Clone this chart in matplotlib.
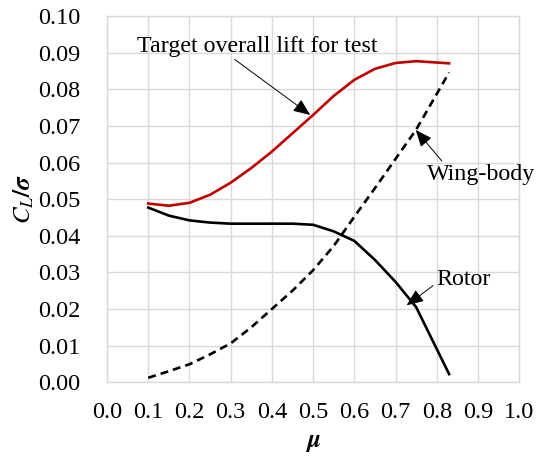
import matplotlib
matplotlib.use("Agg")
import matplotlib.pyplot as plt

# Advance ratio values and lift coefficient / solidity for each component
mu = [0.10, 0.15, 0.20, 0.25, 0.30, 0.35, 0.40, 0.45, 0.50, 0.55, 0.60, 0.65, 0.70, 0.75, 0.83]
target_total = [0.0488, 0.0482, 0.0490, 0.0512, 0.0545, 0.0585, 0.0630, 0.0680, 0.0730, 0.0782,
                0.0826, 0.0856, 0.0872, 0.0877, 0.0871]
rotor = [0.0477, 0.0455, 0.0442, 0.0436, 0.0433, 0.0433, 0.0433, 0.0433, 0.0430, 0.0412,
         0.0386, 0.0334, 0.0274, 0.0205, 0.0022]
wing_body = [0.0012, 0.0030, 0.0049, 0.0076, 0.0106, 0.0150, 0.0200, 0.0250, 0.0306, 0.0372,
             0.0452, 0.0530, 0.0610, 0.0690, 0.0846]

x_ticks = [0.0, 0.1, 0.2, 0.3, 0.4, 0.5, 0.6, 0.7, 0.8, 0.9, 1.0]
y_ticks = [0.00, 0.01, 0.02, 0.03, 0.04, 0.05, 0.06, 0.07, 0.08, 0.09, 0.10]

plt.rcParams['font.family'] = ['Liberation Serif', 'DejaVu Serif']
plt.rcParams['mathtext.fontset'] = 'stix'

fig = plt.figure(figsize=(5.38, 4.61), dpi=100)
ax = fig.add_axes([0.199, 0.171, 0.766, 0.794])

grid_c = '#d9d9d9'
ax.plot(mu, target_total, color='#c00000', lw=1.9, zorder=3)
ax.plot(mu, rotor, color='black', lw=1.9, zorder=3)
ax.plot(mu, wing_body, color='black', lw=1.9, ls=(0, (3.0, 1.9)), zorder=3)

ax.set_xlim(0, 1.0)
ax.set_ylim(0, 0.10)
ax.set_xticks(x_ticks)
ax.set_yticks(y_ticks)
ax.set_xticklabels([f"{v:.1f}" for v in x_ticks])
ax.set_yticklabels([f"{v:.2f}" for v in y_ticks])
ax.tick_params(length=0, labelsize=17.5)
ax.tick_params(axis='y', pad=19)
ax.tick_params(axis='x', pad=14)
ax.grid(True, color=grid_c, lw=1.0)
ax.set_axisbelow(True)
for s in ax.spines.values():
    s.set_color(grid_c)
    s.set_linewidth(1.0)

ax.set_xlabel(r'$\boldsymbol{\mu}$', fontsize=18, labelpad=7)
ax.set_ylabel(r'$\boldsymbol{C_L/\sigma}$', fontsize=18, labelpad=2)

arrow = dict(arrowstyle='-|>,head_length=0.6,head_width=0.25', color='black', lw=0.7,
             shrinkA=0, shrinkB=0)
ax.annotate('Target overall lift for test', xy=(0.493, 0.0730), xytext=(0.073, 0.0918),
            fontsize=17.3, ha='left', va='center', arrowprops=dict(arrow, relpos=(0.39, 0.0)))
ax.annotate('Wing-body', xy=(0.749, 0.0689), xytext=(0.776, 0.0568),
            fontsize=17.3, ha='left', va='center', arrowprops=dict(arrow, relpos=(0.16, 1.0)))
ax.annotate('Rotor', xy=(0.727, 0.0210), xytext=(0.798, 0.0281),
            fontsize=17.3, ha='left', va='center', arrowprops=dict(arrow, relpos=(0.0, 0.3)))

fig.savefig('out.png', dpi=100)
